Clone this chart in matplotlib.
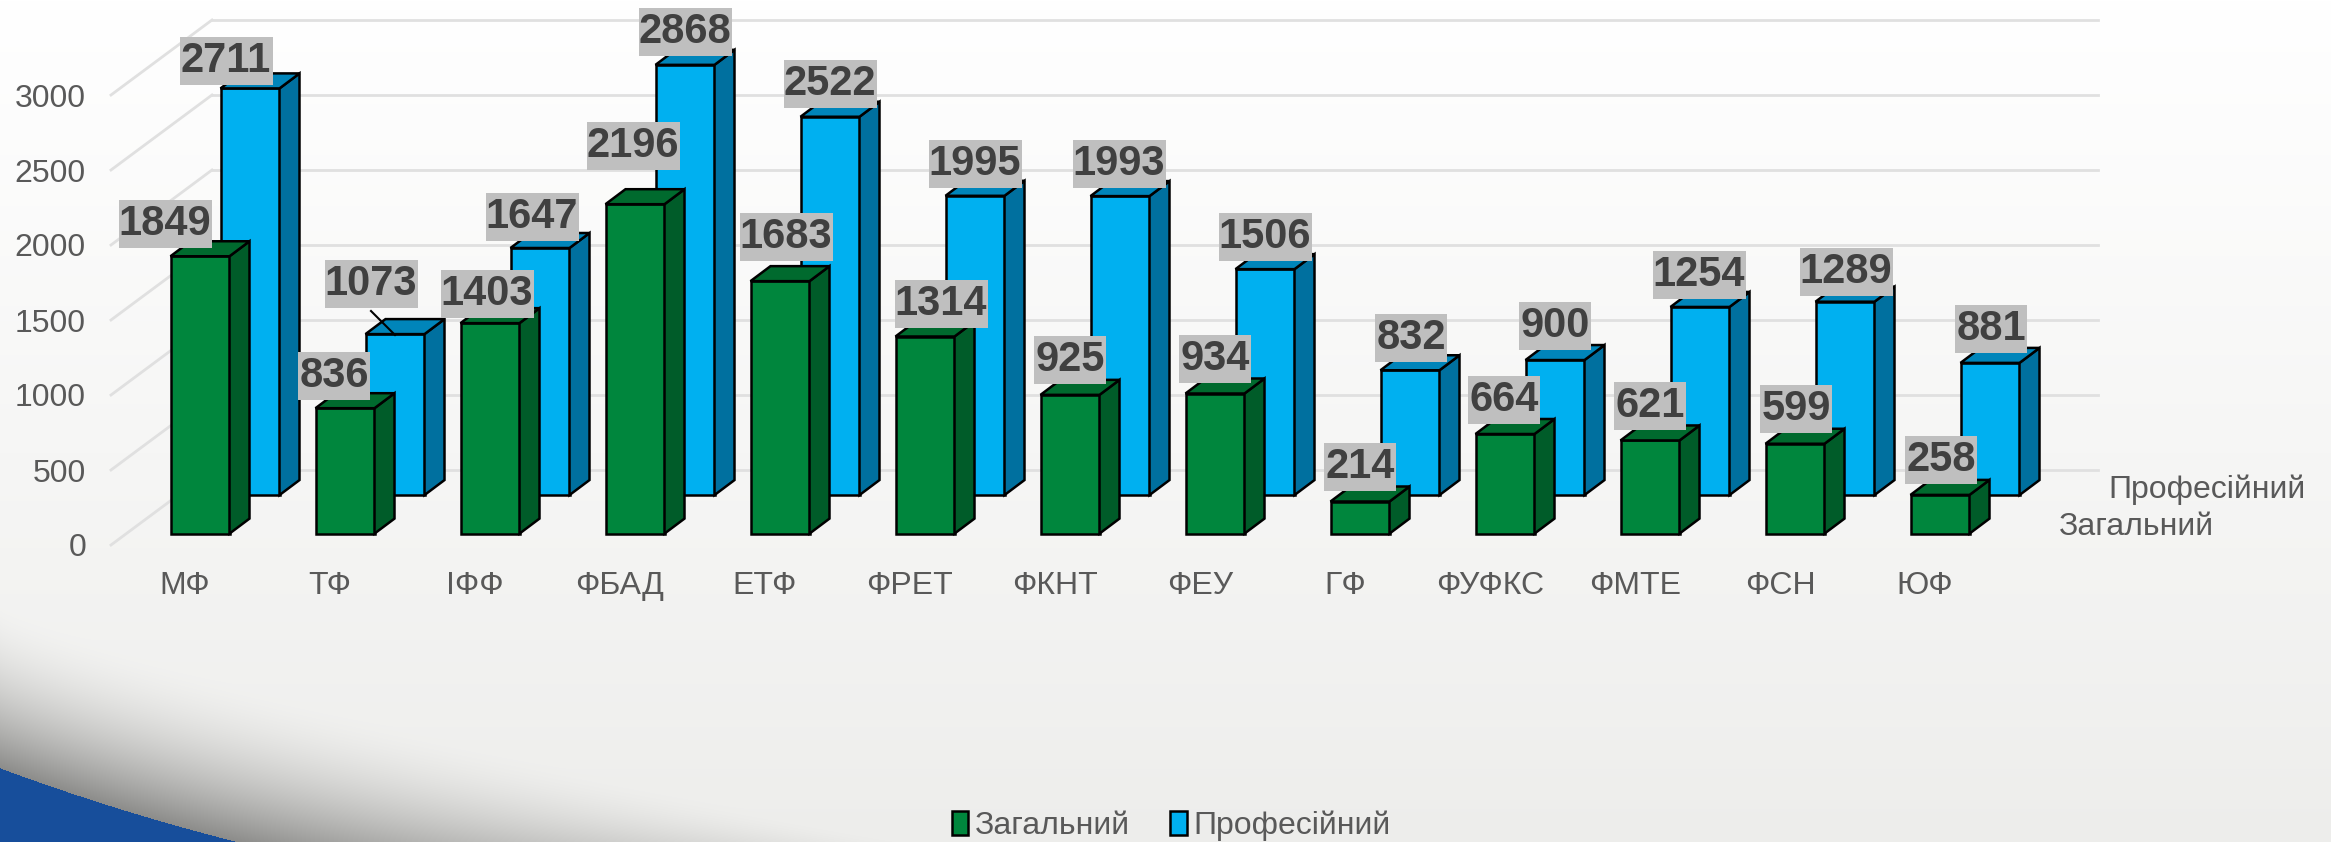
import numpy as np
import matplotlib
matplotlib.use('Agg')
import matplotlib.pyplot as plt
from matplotlib.patches import Polygon, Rectangle
from matplotlib.transforms import Affine2D

plt.rcParams['font.family'] = ['Liberation Sans', 'DejaVu Sans']

categories = ['МФ', 'ТФ', 'ІФФ', 'ФБАД', 'ЕТФ', 'ФРЕТ', 'ФКНТ', 'ФЕУ', 'ГФ', 'ФУФКС', 'ФМТЕ', 'ФСН', 'ЮФ']
general = [1849, 836, 1403, 2196, 1683, 1314, 925, 934, 214, 664, 621, 599, 258]
professional = [2711, 1073, 1647, 2868, 2522, 1995, 1993, 1506, 832, 900, 1254, 1289, 881]
y_ticks = [0, 500, 1000, 1500, 2000, 2500, 3000]

# label centres in image pixels
general_label_px = [(165, 224), (334, 376), (487, 294), (633, 146), (786, 237), (941, 304), (1070, 360),
                    (1215, 359), (1360, 467), (1504, 400), (1650, 406), (1796, 409), (1941, 460)]
professional_label_px = [(226, 61), (371, 284), (532, 217), (685, 32), (830, 84), (975, 164), (1119, 164),
                         (1265, 237), (1411, 338), (1555, 326), (1699, 275), (1846, 272), (1991, 329)]

W, H = 2331, 842
PITCH = 145.0          # pixels between categories
X0 = 200.0             # pixel centre of the first green bar
BAR_W = 59 / PITCH
DEPTH_X = 20 / PITCH
DEPTH_Y = 100
GREEN_BASE = 76
BLUE_BASE = 333
BLUE_SHIFT = 50 / PITCH
WALL_X = 101 / PITCH
WALL_Y = 500
GRID = '#E0E0E0'
TEXT = '#595959'

px = Affine2D().scale(1, -1).translate(0, H)  # image pixels, origin top left

fig = plt.figure(figsize=(W / 100, H / 100), dpi=100)

# slide background
yy, xx = np.mgrid[0:H, 0:W].astype(float)
shade = (1 - yy / H) ** 0.9
bg = np.stack([237 + 18 * shade, 237 + 18 * shade, 235 + 20 * shade], axis=-1)
top_edge = 600 + 242 * (xx / 900) ** 0.8
blue_edge = 768 + 0.37 * xx - 0.00025 * xx ** 2
blue_edge[xx > 740] = 905
t = np.clip((yy - top_edge) / np.maximum(blue_edge - top_edge, 1), 0, 1) ** 1.8
shadow = np.array([140, 140, 138.0])
bg = bg * (1 - t[..., None]) + shadow * t[..., None]
bg[yy >= blue_edge] = [23, 78, 155]
bg_ax = fig.add_axes([0, 0, 1, 1], zorder=0)
bg_ax.imshow(bg.astype(np.uint8), aspect='auto', extent=(0, W, H, 0))
bg_ax.axis('off')

ax = fig.add_axes([111 / W, (H - 545) / H, (2098 - 111) / W, 525 / H], zorder=1)
ax.patch.set_alpha(0)
ax.set_xlim((111 - X0) / PITCH, (2098 - X0) / PITCH)
ax.set_ylim(0, 3500)
for spine in ax.spines.values():
    spine.set_visible(False)

x = np.arange(len(categories))

# walls
left = (111 - X0) / PITCH
right = (2098 - X0) / PITCH
for v in y_ticks:
    ax.plot([left, left + WALL_X], [v, v + WALL_Y], color=GRID, lw=2, clip_on=False, zorder=1)
    ax.plot([left + WALL_X, right], [v + WALL_Y, v + WALL_Y], color=GRID, lw=2, clip_on=False, zorder=1)


def draw_bars(xs, values, base, front, side, top, label, z):
    bars = ax.bar(xs, values, BAR_W, bottom=base, color=front, edgecolor='black', linewidth=1.8,
                  label=label, zorder=z, clip_on=False)
    for xc, v in zip(xs, values):
        r = xc + BAR_W / 2
        l = xc - BAR_W / 2
        y_top = base + v
        ax.add_patch(Polygon([(r, base), (r + DEPTH_X, base + DEPTH_Y), (r + DEPTH_X, y_top + DEPTH_Y), (r, y_top)],
                             facecolor=side, edgecolor='black', linewidth=1.8, zorder=z, clip_on=False))
        ax.add_patch(Polygon([(l, y_top), (l + DEPTH_X, y_top + DEPTH_Y), (r + DEPTH_X, y_top + DEPTH_Y), (r, y_top)],
                             facecolor=top, edgecolor='black', linewidth=1.8, zorder=z, clip_on=False))
    return bars


blue_bars = draw_bars(x + BLUE_SHIFT, professional, BLUE_BASE, '#00B0F0', '#00709F', '#0085BA', 'Професійний', 2)
green_bars = draw_bars(x, general, GREEN_BASE, '#00863D', '#005C29', '#006A2E', 'Загальний', 3)

ax.set_yticks(y_ticks)
ax.set_yticklabels([str(v) for v in y_ticks], fontsize=23, color=TEXT)
ax.set_xticks(x - 15 / PITCH)
ax.set_xticklabels(categories, fontsize=23, color=TEXT)
ax.tick_params(axis='both', length=0)
ax.tick_params(axis='y', pad=18)
ax.tick_params(axis='x', pad=19)


def value_label(value, pos):
    w = 93 if value >= 1000 else 72
    fig.add_artist(Rectangle((pos[0] - w / 2, pos[1] - 24), w, 48, facecolor='#BFBFBF', edgecolor='none',
                             transform=px, zorder=5))
    fig.text(pos[0], pos[1], str(value), transform=px, ha='center', va='center', fontsize=30,
             fontweight='bold', color='#404040', zorder=6)


for value, pos in zip(professional, professional_label_px):
    value_label(value, pos)
for value, pos in zip(general, general_label_px):
    value_label(value, pos)

# leader line of the 1073 label
fig.add_artist(plt.Line2D([371, 395], [311, 335], color='black', lw=1.5, transform=px, zorder=4))

# depth axis names
fig.text(2108, 490, 'Професійний', transform=px, fontsize=23, color=TEXT, ha='left', va='center', zorder=4)
fig.text(2059, 527, 'Загальний', transform=px, fontsize=23, color=TEXT, ha='left', va='center', zorder=4)

leg = fig.legend(handles=[green_bars, blue_bars], labels=['Загальний', 'Професійний'], ncol=2, frameon=False,
                 loc='center', bbox_to_anchor=(1171 / W, (H - 826) / H), fontsize=23, labelcolor=TEXT,
                 handlelength=0.53, handleheight=0.78, handletextpad=0.2, columnspacing=1.25,
                 borderpad=0, borderaxespad=0)
leg.set_zorder(4)

fig.savefig('out.png', dpi=100)
